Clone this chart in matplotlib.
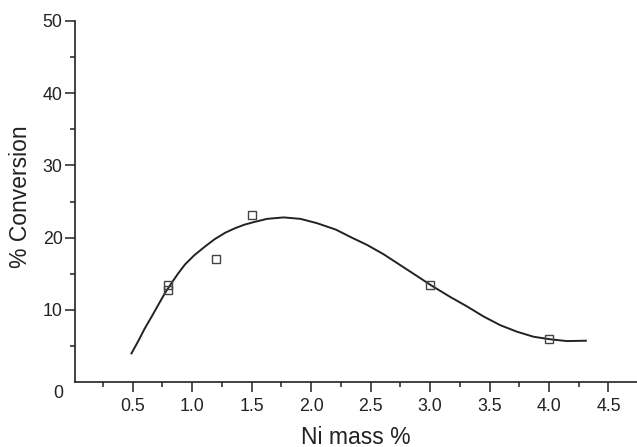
import matplotlib.pyplot as plt
import numpy as np

plt.rcParams['font.family'] = ['Liberation Sans', 'DejaVu Sans']

# measured conversion at each Ni loading
ni_mass = [0.8, 0.8, 1.2, 1.5, 3.0, 4.0]
conversion = [13.4, 12.8, 17.05, 23.1, 13.4, 5.95]

# fitted trend line, read along its length
fit_x = [0.49, 0.55, 0.60, 0.66, 0.715, 0.77, 0.83, 0.88, 0.94, 1.02,
         1.11, 1.19, 1.28, 1.36, 1.44, 1.53, 1.63, 1.77, 1.91, 2.05,
         2.21, 2.33, 2.47, 2.61, 2.75, 2.89, 3.01, 3.17, 3.31, 3.45,
         3.59, 3.73, 3.87, 4.01, 4.15, 4.31]
fit_y = [4.0, 5.8, 7.4, 9.1, 10.7, 12.3, 13.8, 15.0, 16.3, 17.6,
         18.8, 19.8, 20.7, 21.3, 21.8, 22.2, 22.6, 22.8, 22.6, 22.0,
         21.1, 20.1, 19.0, 17.7, 16.2, 14.7, 13.4, 11.8, 10.5, 9.1,
         7.9, 7.0, 6.3, 5.95, 5.7, 5.75]

x_major = [0.5, 1.0, 1.5, 2.0, 2.5, 3.0, 3.5, 4.0, 4.5]
x_minor = [0.25, 0.75, 1.25, 1.75, 2.25, 2.75, 3.25, 3.75, 4.25]
y_major = [10, 20, 30, 40, 50]
y_minor = [5, 15, 25, 35, 45]

fig = plt.figure(figsize=(6.37, 4.47), dpi=100)
ax = fig.add_axes([75 / 637, 64.7 / 447, 562 / 637, 361.6 / 447])

ax.plot(fit_x, fit_y, color='#222222', lw=1.4, zorder=2,
        solid_joinstyle='round')
ax.plot(ni_mass, conversion, ls='none', marker='s', ms=6, mfc='none',
        mec='#444444', mew=1.0, zorder=3)

ax.set_xlim(0.015, 4.74)
ax.set_ylim(0, 50)

for side in ['top', 'right']:
    ax.spines[side].set_visible(False)
for side in ['left', 'bottom']:
    ax.spines[side].set_linewidth(1.2)
    ax.spines[side].set_color('#222222')

ax.set_xticks(x_major)
ax.set_xticklabels([f'{v:.1f}' for v in x_major])
ax.set_xticks(x_minor, minor=True)
ax.set_yticks(y_major)
ax.set_yticks(y_minor, minor=True)

ax.tick_params(which='major', length=7, width=1.1, color='#222222',
               labelsize=12.8, labelcolor='#222222', direction='out')
ax.tick_params(which='minor', length=3.6, width=1.1, color='#222222',
               direction='out')
ax.tick_params(axis='x', which='major', pad=4)
ax.tick_params(axis='y', which='major', pad=2)

# origin label sits off the axis corner
ax.text(-0.128, -1.6, '0', fontsize=12.8, color='#222222',
        ha='center', va='center', clip_on=False)

fig.text(356 / 637, 1 - 437 / 447, 'Ni mass %', fontsize=16.5,
         color='#222222', ha='center', va='center')
fig.text(21 / 637, 1 - 197 / 447, '% Conversion', fontsize=16.5,
         color='#222222', ha='center', va='center', rotation=90)

fig.savefig('out.png', dpi=100)
